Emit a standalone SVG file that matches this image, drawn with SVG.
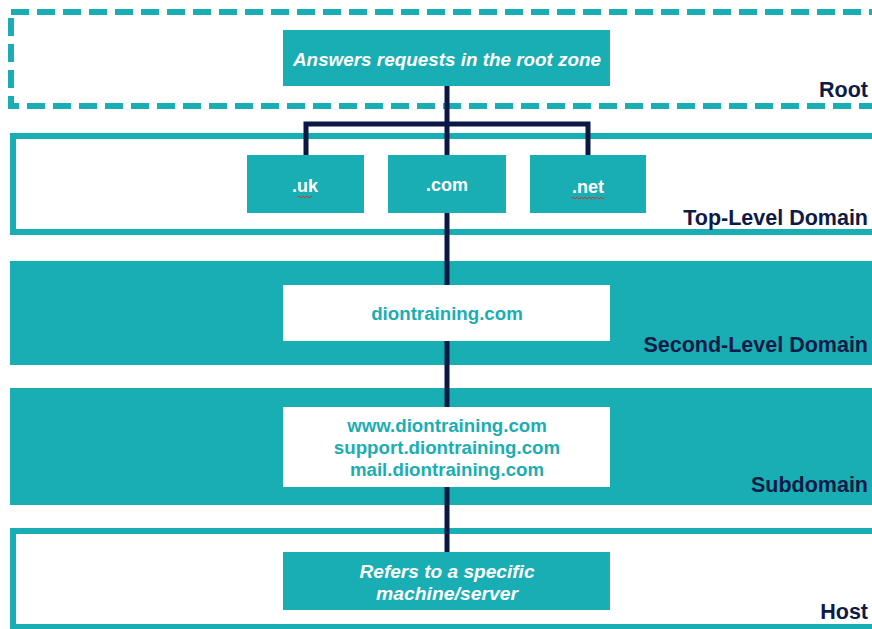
<svg xmlns="http://www.w3.org/2000/svg" width="872" height="629" viewBox="0 0 872 629">
<style>
.band-o{fill:#ffffff;stroke:#19aeb3;stroke-width:6}
.band-f{fill:#19aeb3}
.nd{fill:#19aeb3}
.nw{fill:#ffffff}
.lvl{font-family:"Liberation Sans",Arial,sans-serif;font-weight:bold;font-size:21.5px;fill:#0e1a47;text-anchor:end}
.tw{font-family:"Liberation Sans",Arial,sans-serif;font-weight:bold;font-size:18px;fill:#ffffff;text-anchor:middle}
.ti{font-family:"Liberation Sans",Arial,sans-serif;font-style:italic;font-weight:bold;font-size:19px;fill:#ffffff;text-anchor:middle}
.tt{font-family:"Liberation Sans",Arial,sans-serif;font-weight:bold;font-size:18.7px;fill:#1aaeb3;text-anchor:middle}
.conn{fill:none;stroke:#0b1745;stroke-width:5}
.sq{fill:none;stroke:#d9342b;stroke-width:1}
</style>
<rect width="872" height="629" fill="#ffffff"/>
<g id="bands">
<rect x="11" y="12" width="880" height="94" fill="#ffffff" stroke="#19aeb3" stroke-width="6" stroke-dasharray="18 8"/>
<text class="lvl" x="868" y="97">Root</text>
<rect class="band-o" x="13" y="136" width="880" height="96"/>
<text class="lvl" x="868" y="225">Top-Level Domain</text>
<rect class="band-f" x="10" y="261" width="880" height="104"/>
<text class="lvl" x="868" y="352">Second-Level Domain</text>
<rect class="band-f" x="10" y="388" width="880" height="117"/>
<text class="lvl" x="868" y="492">Subdomain</text>
<rect class="band-o" x="13" y="531" width="880" height="96"/>
<text class="lvl" x="868" y="619">Host</text>
</g>
<g id="connectors">
<path class="conn" d="M447 86 V124 M306 155 V124 H588 V155 M447 124 V155 M447 213 V285 M447 341 V407 M447 487 V552"/>
</g>
<g id="root-node">
<rect class="nd" x="283" y="30" width="327" height="56"/>
<text class="ti" x="447" y="66" textLength="308" lengthAdjust="spacingAndGlyphs">Answers requests in the root zone</text>
</g>
<g id="tld-uk">
<rect class="nd" x="247" y="155" width="117" height="58"/>
<text class="tw" x="305" y="192">.uk</text>
<path class="sq" d="M298 197 q1 -2 2 0 t2 0 t2 0 t2 0 t2 0 t2 0 t2 0"/>
</g>
<g id="tld-com">
<rect class="nd" x="388" y="155" width="118" height="58"/>
<text class="tw" x="447" y="191">.com</text>
</g>
<g id="tld-net">
<rect class="nd" x="530" y="155" width="116" height="58"/>
<text class="tw" x="588" y="193">.net</text>
<path class="sq" d="M572 198 q1 -2 2 0 t2 0 t2 0 t2 0 t2 0 t2 0 t2 0 t2 0 t2 0 t2 0 t2 0 t2 0 t2 0 t2 0 t2 0 t2 0"/>
</g>
<g id="sld">
<rect class="nw" x="283" y="285" width="327" height="56"/>
<text class="tt" x="447" y="320">diontraining.com</text>
</g>
<g id="subdomain">
<rect class="nw" x="283" y="407" width="327" height="80"/>
<text class="tt" x="447" y="432">www.diontraining.com</text>
<text class="tt" x="447" y="454">support.diontraining.com</text>
<text class="tt" x="447" y="476">mail.diontraining.com</text>
</g>
<g id="host">
<rect class="nd" x="283" y="552" width="327" height="58"/>
<text class="ti" x="447" y="578" textLength="175" lengthAdjust="spacingAndGlyphs">Refers to a specific</text>
<text class="ti" x="447" y="600" textLength="142" lengthAdjust="spacingAndGlyphs">machine/server</text>
</g>
</svg>
